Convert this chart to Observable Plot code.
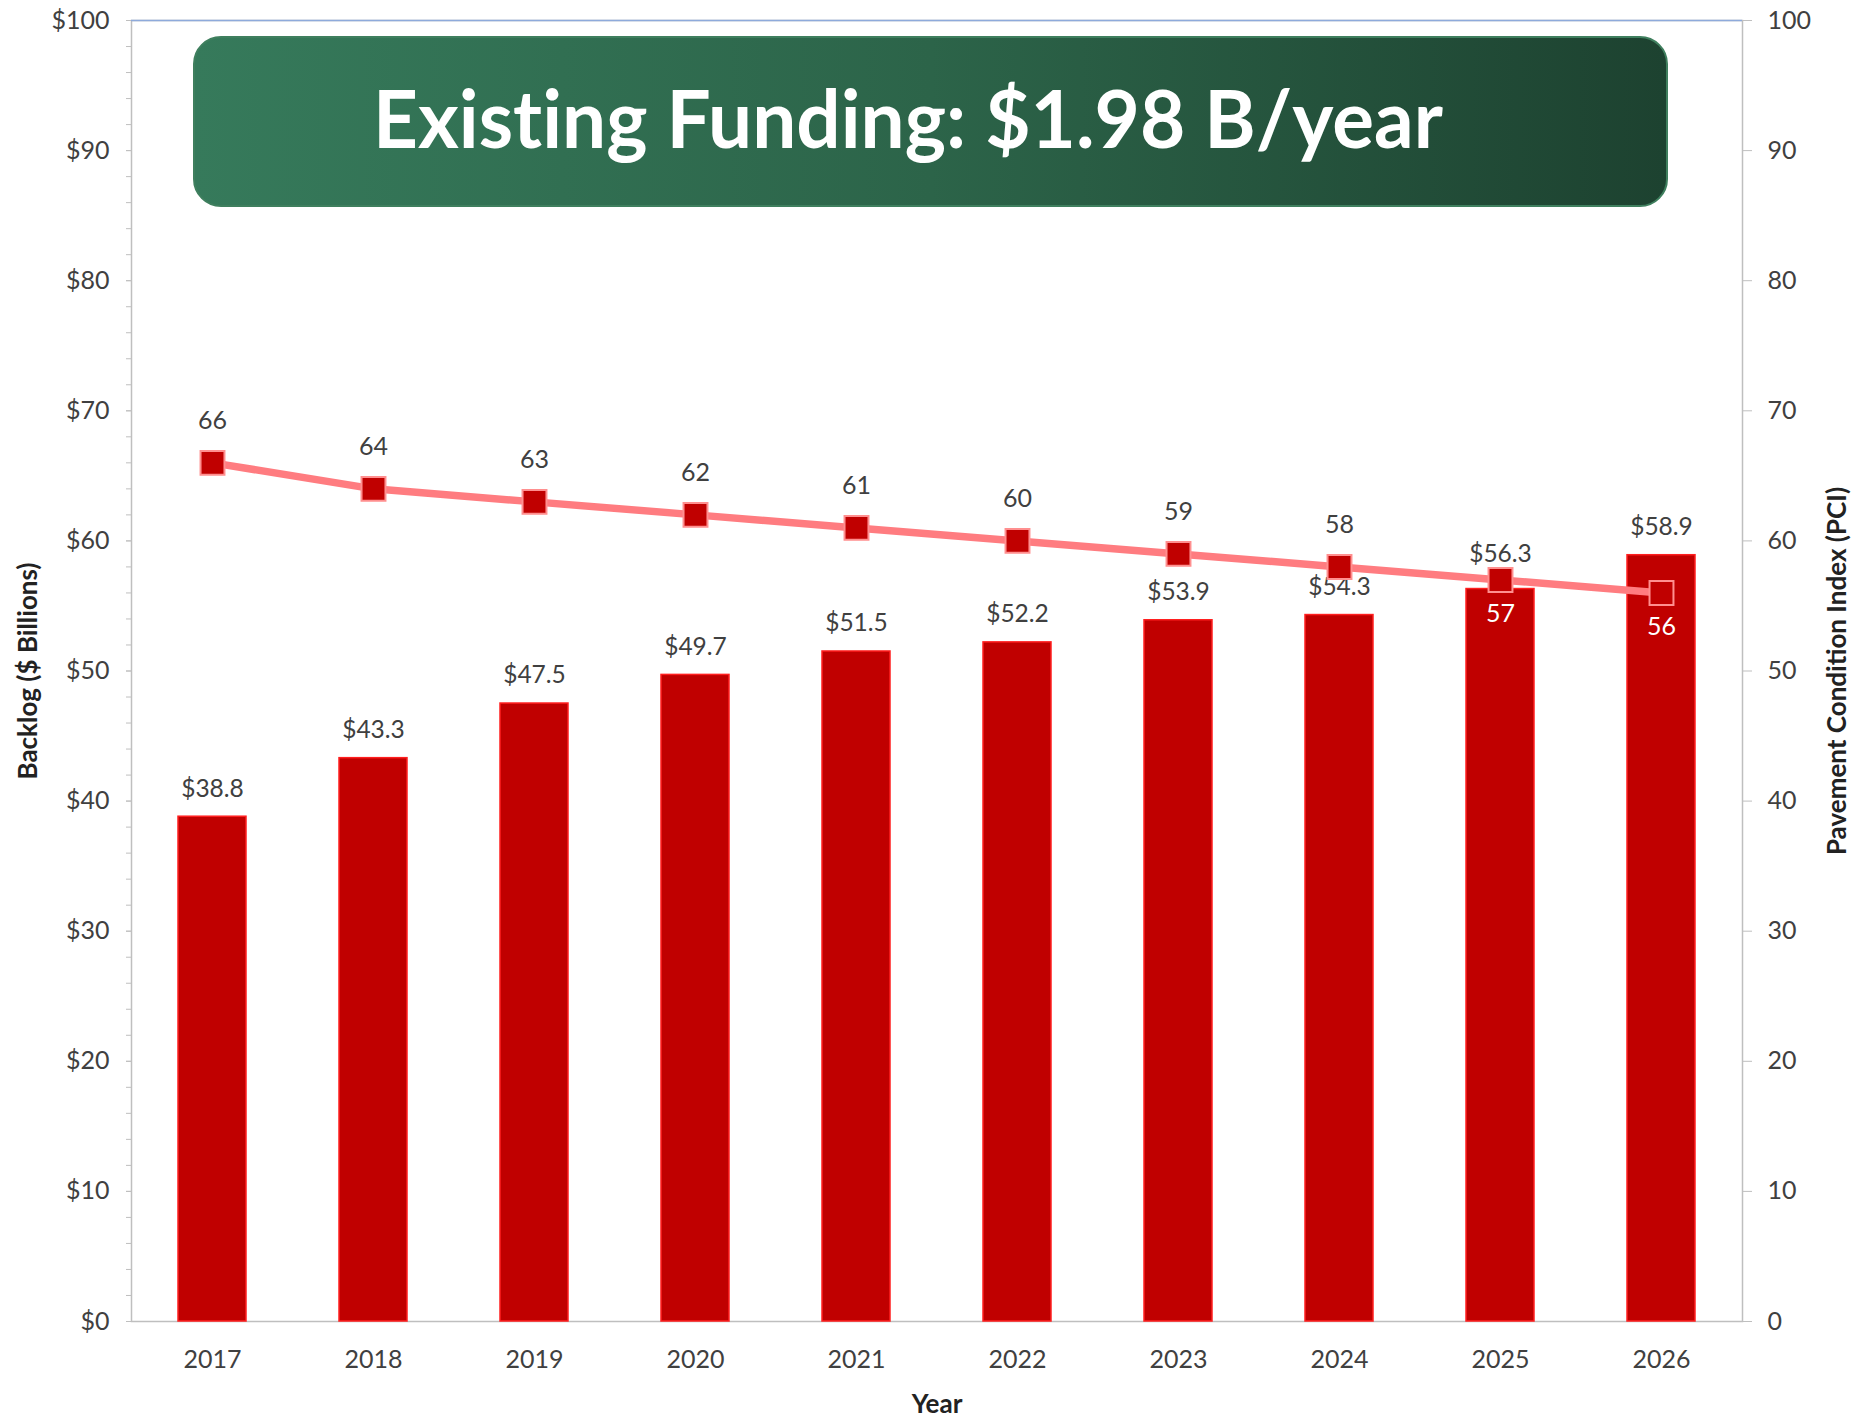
<!DOCTYPE html>
<html>
<head>
<meta charset="utf-8">
<script src="https://cdn.jsdelivr.net/npm/d3@7"></script>
<script src="https://cdn.jsdelivr.net/npm/@observablehq/plot@0.6"></script>
<style>
  html, body { margin: 0; padding: 0; background: #fff; }
  #wrap { position: relative; width: 1864px; height: 1417px; }
  #banner {
    position: absolute; left: 193px; top: 36px; width: 1475px; height: 171px;
    box-sizing: border-box; border-radius: 28px;
    background: linear-gradient(to right, #367a5b 0%, #2c6449 50%, #1d4230 100%);
    border: 2px solid #3f7f5e;
  }
  #banner svg { position: absolute; left: 0; top: 0; }
  #banner text { font-variant-ligatures: none; font-feature-settings: "liga" 0, "clig" 0; }
</style>
</head>
<body>
<div id="wrap"></div>
<script>
// ---- data ----
const years = ["2017", "2018", "2019", "2020", "2021", "2022", "2023", "2024", "2025", "2026"];
const backlog = [38.8, 43.3, 47.5, 49.7, 51.5, 52.2, 53.9, 54.3, 56.3, 58.9];
const pci = [66, 64, 63, 62, 61, 60, 59, 58, 57, 56];
const leftTicks = [0, 10, 20, 30, 40, 50, 60, 70, 80, 90, 100];
const rightTicks = [0, 10, 20, 30, 40, 50, 60, 70, 80, 90, 100];
const minorTicks = d3.range(0, 101, 2);
const titleText = "Existing Funding: $1.98 B/year";
const leftTitle = "Backlog ($ Billions)";
const rightTitle = "Pavement Condition Index (PCI)";
const xTitle = "Year";

const data = years.map((year, i) => ({year, backlog: backlog[i], pci: pci[i]}));
const labelsBelow = new Set(["2025", "2026"]);

const FONT = "Lato, 'Open Sans', sans-serif";
const GRAY = "#bfbfbf";
const TXT = "#404040";
const FS = 25;

const chart = Plot.plot({
  width: 1864,
  height: 1417,
  marginLeft: 131,
  marginRight: 122,
  marginTop: 20,
  marginBottom: 96,
  style: {fontFamily: FONT, background: "#fff"},
  x: {type: "band", domain: years, paddingInner: 0.58, paddingOuter: 0.29, axis: null},
  y: {domain: [0, 100], axis: null},
  marks: [
    Plot.frame({stroke: GRAY, strokeWidth: 1.5}),
    Plot.ruleY([100], {stroke: "#8eaadb", strokeWidth: 1.5}),
    // left minor ticks
    Plot.axisY(minorTicks, {anchor: "left", tickSize: 5, tickFormat: () => "", stroke: GRAY, label: null}),
    // left major ticks + labels
    Plot.axisY(leftTicks, {anchor: "left", tickSize: 5, tickPadding: 17, tickFormat: d => "$" + d,
      fontSize: FS, fill: TXT, stroke: GRAY, label: null}),
    // right axis
    Plot.axisY(rightTicks, {anchor: "right", tickSize: 9, tickPadding: 16, tickFormat: d => String(d),
      fontSize: FS, fill: TXT, stroke: GRAY, label: null}),
    // x axis labels
    Plot.axisX({tickSize: 0, tickPadding: 29, fontSize: FS, fill: TXT, label: null}),
    // bars
    Plot.barY(data, {x: "year", y: "backlog", fill: "#c00000", stroke: "#ff1f1f", strokeWidth: 1.5}),
    Plot.text(data.filter(d => d.year !== "2025"), {x: "year", y: "backlog", text: d => "$" + d.backlog.toFixed(1),
      dy: -28, fontSize: FS - 0.5, fill: TXT}),
    Plot.text(data.filter(d => d.year === "2025"), {x: "year", y: "backlog", text: d => "$" + d.backlog.toFixed(1),
      dy: -35, fontSize: FS - 0.5, fill: TXT}),
    // PCI line
    Plot.line(data, {x: "year", y: "pci", stroke: "#ff7c80", strokeWidth: 7.5, curve: "linear"}),
    Plot.dot(data, {x: "year", y: "pci", symbol: "square", r: 13.5, fill: "#c00000",
      stroke: "#ff8f8f", strokeWidth: 2, ariaLabel: "pci-dot"}),
    Plot.text(data.filter(d => !labelsBelow.has(d.year)), {x: "year", y: "pci", text: d => String(d.pci),
      dy: -42, fontSize: FS, fill: TXT}),
    Plot.text(data.filter(d => labelsBelow.has(d.year)), {x: "year", y: "pci", text: d => String(d.pci),
      dy: 34, fontSize: FS, fill: "#ffffff"}),
    // axis titles
    Plot.text([leftTitle], {frameAnchor: "left", textAnchor: "middle", dx: -103, rotate: -90, fontSize: 26, fontWeight: "bold", fill: "#222"}),
    Plot.text([rightTitle], {frameAnchor: "right", textAnchor: "middle", dx: 95, rotate: -90, fontSize: 26, fontWeight: "bold", fill: "#222"}),
    Plot.text([xTitle], {frameAnchor: "bottom", dy: 91, fontSize: 26, fontWeight: "bold", fill: "#222"})
  ]
});

// drop shadow on markers
const ns = "http://www.w3.org/2000/svg";
const defs = document.createElementNS(ns, "defs");
defs.innerHTML = '<filter id="sh" x="-50%" y="-50%" width="200%" height="200%"><feDropShadow dx="1.5" dy="3" stdDeviation="2" flood-color="#000" flood-opacity="0.35"/></filter>';
chart.insertBefore(defs, chart.firstChild);
const dotG = chart.querySelector('[aria-label="pci-dot"]');
if (dotG) dotG.setAttribute("filter", "url(#sh)");

const wrap = document.getElementById("wrap");
wrap.appendChild(chart);

// title banner
const banner = document.createElement("div");
banner.id = "banner";
banner.innerHTML = `<svg width="1475" height="171"><text x="178" y="110" font-family="${FONT}" font-weight="bold" font-size="80" fill="#fff" textLength="1070" lengthAdjust="spacingAndGlyphs"></text></svg>`;
banner.querySelector("text").textContent = titleText;
wrap.appendChild(banner);
</script>
</body>
</html>
